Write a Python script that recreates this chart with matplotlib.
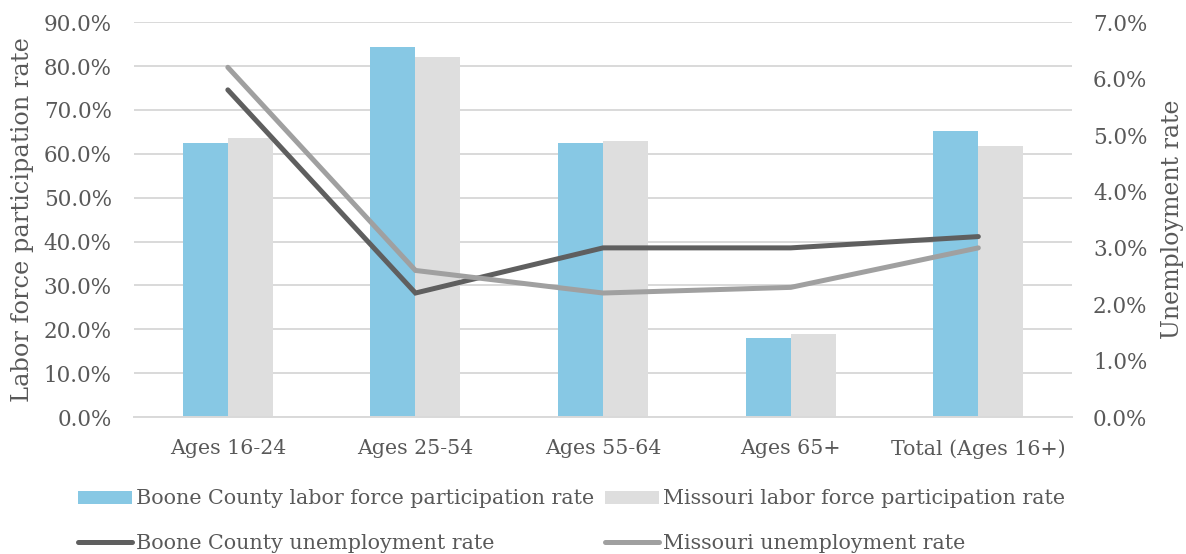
import numpy as np
import matplotlib.pyplot as plt
from matplotlib.ticker import FuncFormatter

# Data
categories = ["Ages 16-24", "Ages 25-54", "Ages 55-64", "Ages 65+", "Total (Ages 16+)"]
boone_lfpr = [62.4, 84.3, 62.4, 18.0, 65.2]
missouri_lfpr = [63.5, 82.0, 62.9, 18.9, 61.7]
boone_unemp = [5.8, 2.2, 3.0, 3.0, 3.2]
missouri_unemp = [6.2, 2.6, 2.2, 2.3, 3.0]

TEXT = "#595959"
plt.rcParams["font.family"] = ["DejaVu Serif"]
plt.rcParams["text.color"] = TEXT


def main():
    fig = plt.figure(figsize=(11.86, 5.54), dpi=100)
    ax = fig.add_axes([0.113, 0.247, 0.791, 0.713])
    ax2 = ax.twinx()

    x = np.arange(len(categories))
    w = 0.24
    b1 = ax.bar(x - w / 2, boone_lfpr, w, color="#87C8E4",
                label="Boone County labor force participation rate", zorder=2)
    b2 = ax.bar(x + w / 2, missouri_lfpr, w, color="#DEDEDE",
                label="Missouri labor force participation rate", zorder=2)
    l1, = ax2.plot(x, boone_unemp, color="#5F5F5F", lw=3.6,
                   solid_capstyle="round", solid_joinstyle="miter",
                   label="Boone County unemployment rate")
    l2, = ax2.plot(x, missouri_unemp, color="#A0A0A0", lw=3.6,
                   solid_capstyle="round", solid_joinstyle="miter",
                   label="Missouri unemployment rate")

    ax.set_xlim(-0.5, 4.5)
    ax.set_ylim(0, 90)
    ax.set_yticks(np.arange(0, 91, 10))
    ax2.set_ylim(0, 7)
    ax2.set_yticks(np.arange(0, 7.1, 1))
    ax.yaxis.set_major_formatter(FuncFormatter(lambda v, p: f"{v:.1f}%"))
    ax2.yaxis.set_major_formatter(FuncFormatter(lambda v, p: f"{v:.1f}%"))

    ax.grid(axis="y", color="#D9D9D9", lw=1.4, zorder=0)
    ax.set_axisbelow(True)
    for a in (ax, ax2):
        for s in a.spines.values():
            s.set_visible(False)
        a.tick_params(length=0, labelsize=15.5, colors=TEXT)
    ax.spines["bottom"].set_visible(True)
    ax.spines["bottom"].set_color("#D9D9D9")
    ax.spines["bottom"].set_linewidth(1.4)

    ax.set_xticks(x)
    ax.set_xticklabels(categories)
    ax.tick_params(axis="x", pad=16, labelsize=14.8)
    ax.tick_params(axis="y", pad=16)
    ax2.tick_params(axis="y", pad=15)

    ax.set_ylabel("Labor force participation rate", fontsize=17.3, color=TEXT, labelpad=7)
    ax2.set_ylabel("Unemployment rate", fontsize=17, color=TEXT, labelpad=10)

    fig.legend([b1, l1, b2, l2],
               [b1.get_label(), l1.get_label(), b2.get_label(), l2.get_label()],
               loc="center", bbox_to_anchor=(0.482, 0.059), ncol=2,
               frameon=False, fontsize=14.9, handlelength=2.6,
               handleheight=0.6, handletextpad=0.2, columnspacing=0.5,
               labelspacing=1.25, labelcolor=TEXT)

    fig.savefig("out.png", dpi=100)


if __name__ == "__main__":
    main()
